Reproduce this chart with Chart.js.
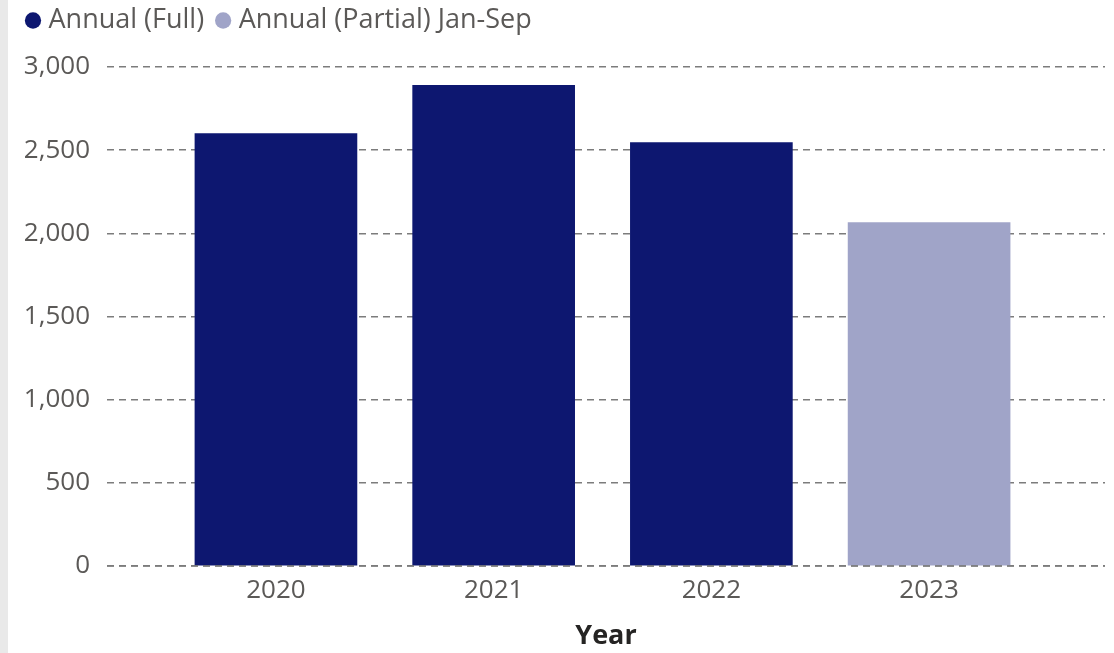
<!DOCTYPE html>
<html>
<head>
<meta charset="utf-8">
<script src="https://cdn.jsdelivr.net/npm/chart.js@4/dist/chart.umd.min.js"></script>
<style>
  html, body { margin: 0; padding: 0; background: #fff; }
  #wrap { position: relative; width: 1114px; height: 653px; }
  #strip { position: absolute; left: 0; top: 0; width: 8px; height: 653px; background: #e9e9e9; }
  canvas { position: absolute; left: 0; top: 0; }
</style>
</head>
<body>
<div id="wrap">
  <div id="strip"></div>
  <canvas id="c" width="1114" height="653"></canvas>
</div>
<script>
// Years on the category axis
const years = ['2020', '2021', '2022', '2023'];
// Full-year totals (2020-2022)
const fullValues = [2600, 2890, 2545, null];
// Partial-year total for 2023 (Jan-Sep)
const partialValues = [null, null, null, 2065];
// Value-axis ticks
const yTicks = [0, 500, 1000, 1500, 2000, 2500, 3000];

const FONT = "'Open Sans', 'Noto Sans', sans-serif";
const TEXT_COLOR = '#5b5957';
const GRID_COLOR = '#7c7c7c';
const GRID_DASH = [7, 5];

const toPoints = vals => vals
  .map((v, i) => (v === null ? null : { x: i, y: v }))
  .filter(p => p !== null);

// Legend band height fixed so the plot starts at the right place
const legendHeight = {
  id: 'legendHeight',
  beforeInit(chart) {
    const lg = chart.legend;
    if (!lg) return;
    const fit = lg.fit.bind(lg);
    lg.fit = function () { fit(); this.height = 77; };
  }
};

// Baseline at 0 is visible on top of the bars
const zeroLine = {
  id: 'zeroLine',
  afterDatasetsDraw(chart) {
    const { ctx, chartArea, scales } = chart;
    const y = scales.y.getPixelForValue(0);
    ctx.save();
    ctx.strokeStyle = GRID_COLOR;
    ctx.lineWidth = 1.5;
    ctx.setLineDash(GRID_DASH);
    ctx.beginPath();
    ctx.moveTo(chartArea.left, y);
    ctx.lineTo(chartArea.right, y);
    ctx.stroke();
    ctx.restore();
  }
};

new Chart(document.getElementById('c'), {
  type: 'bar',
  data: {
    datasets: [
      {
        label: 'Annual (Full)',
        data: toPoints(fullValues),
        backgroundColor: '#0D1770',
        barThickness: 162,
        grouped: false
      },
      {
        label: 'Annual (Partial) Jan-Sep',
        data: toPoints(partialValues),
        backgroundColor: '#A0A4C8',
        barThickness: 162,
        grouped: false
      }
    ]
  },
  options: {
    responsive: false,
    animation: false,
    layout: { padding: { left: 14, right: 9, top: -10, bottom: 0 } },
    plugins: {
      tooltip: { enabled: false },
      legend: {
        position: 'top',
        align: 'start',
        labels: {
          usePointStyle: true,
          pointStyle: 'circle',
          boxHeight: 11.5,
          boxWidth: 4,
          padding: 17,
          color: TEXT_COLOR,
          font: { family: FONT, size: 27 }
        }
      }
    },
    scales: {
      x: {
        type: 'linear',
        offset: false,
        min: -0.776,
        max: 3.808,
        afterBuildTicks(scale) { scale.ticks = years.map((_, i) => ({ value: i })); },
        afterFit(scale) { scale.height = 87; },
        ticks: {
          callback: v => years[v],
          color: TEXT_COLOR,
          padding: 9,
          maxRotation: 0,
          autoSkip: false,
          font: { family: FONT, size: 26 }
        },
        grid: { display: false, drawTicks: false },
        border: { display: false },
        title: {
          display: true,
          text: 'Year',
          color: '#252423',
          padding: { top: 4, bottom: 0 },
          font: { family: FONT, size: 27, weight: 'bold' }
        }
      },
      y: {
        min: 0,
        max: 3000,
        afterBuildTicks(scale) { scale.ticks = yTicks.map(v => ({ value: v })); },
        afterFit(scale) { scale.width = 93; },
        ticks: {
          callback: v => v.toLocaleString('en-US'),
          color: TEXT_COLOR,
          padding: 17,
          font: { family: FONT, size: 26 }
        },
        grid: {
          color: GRID_COLOR,
          lineWidth: 1.5,
          drawTicks: false
        },
        border: { display: false, dash: GRID_DASH }
      }
    }
  },
  plugins: [legendHeight, zeroLine]
});
</script>
</body>
</html>
